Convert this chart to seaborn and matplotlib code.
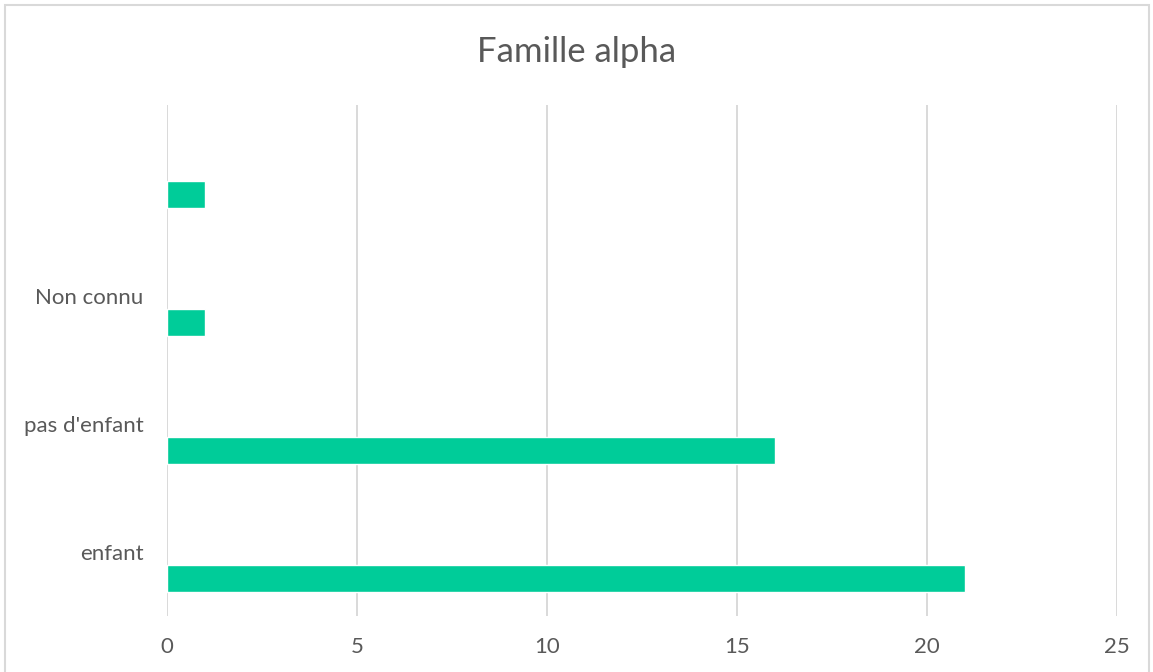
import numpy as np
import pandas as pd
import matplotlib
matplotlib.use("Agg")
import matplotlib.pyplot as plt
import matplotlib.transforms as mtransforms
from matplotlib.patches import Rectangle
import seaborn as sns

# values, top to bottom
categories = ["", "Non connu", "pas d'enfant", "enfant"]
counts = [1, 1, 16, 21]
x_ticks = [0, 5, 10, 15, 20, 25]

df = pd.DataFrame({"categorie": categories, "nombre": counts})

sns.set_style("white")
plt.rcParams['font.family'] = ['Lato', 'DejaVu Sans']

text_color = '#595959'
grid_color = '#d9d9d9'
bar_color = '#00cc99'

fig = plt.figure(figsize=(11.53, 6.72), dpi=100)
ax = fig.add_axes([167 / 1153, 56 / 672, 950 / 1153, 511 / 672])

sns.barplot(data=df, x="nombre", y="categorie", order=categories,
            color=bar_color, saturation=1, width=0.21, ax=ax, zorder=3)

ax.set_xlim(0, 25)
ax.set_ylim(3.29, -0.70)
ax.set_xticks(x_ticks)
ax.set_xlabel("")
ax.set_ylabel("")
ax.xaxis.grid(True, color=grid_color, linewidth=1.4)
ax.yaxis.grid(False)
ax.set_axisbelow(True)
for side in ["top", "right", "bottom", "left"]:
    ax.spines[side].set_visible(False)
ax.tick_params(axis='both', length=0, labelsize=16, labelcolor=text_color)
ax.tick_params(axis='x', pad=15)
ax.tick_params(axis='y', pad=17)

# category labels sit above their bar, as in the original
offset = mtransforms.ScaledTranslation(0, 27 / 100, fig.dpi_scale_trans)
for lab in ax.get_yticklabels():
    lab.set_transform(lab.get_transform() + offset)

fig.text(0.5, 1 - 62 / 672, "Famille alpha", ha='center', va='baseline',
         fontsize=25, color=text_color)

# chart area border (bottom edge runs off the picture)
fig.add_artist(Rectangle((5 / 1153, -0.02), 1144 / 1153, 1.013,
                         transform=fig.transFigure, fill=False,
                         edgecolor=grid_color, linewidth=1.5))

fig.savefig("out.png", dpi=100)
